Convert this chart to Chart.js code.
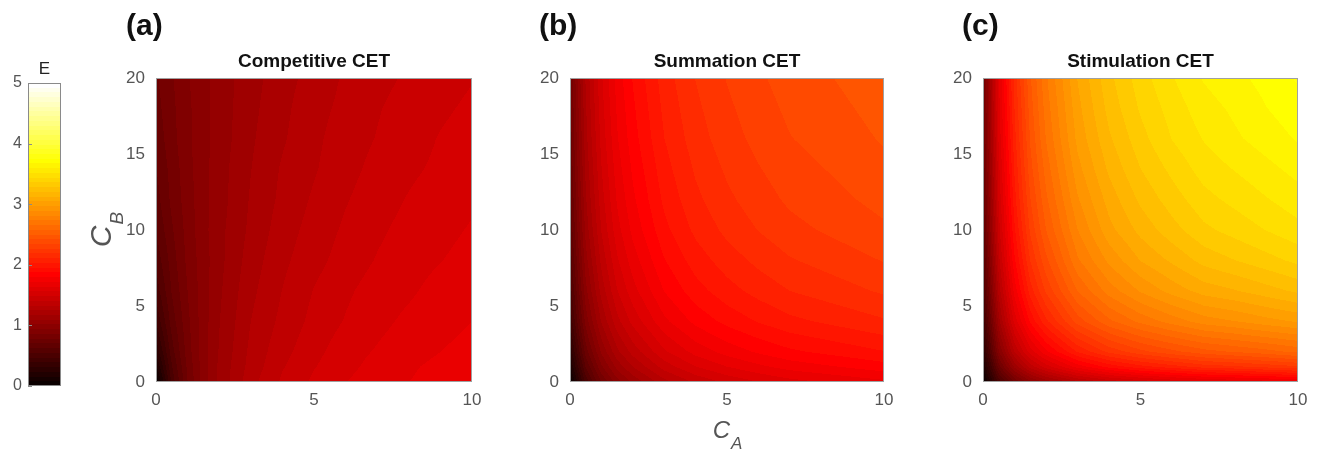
<!DOCTYPE html>
<html lang="en">
<head>
<meta charset="UTF-8">
<title>CET</title>
<script src="https://cdn.jsdelivr.net/npm/chart.js@4.4.0/dist/chart.umd.min.js"></script>
<style>
  body { margin: 0; background: #fff; }
  #wrap { position: relative; width: 1326px; height: 456px; }
  #wrap canvas { position: absolute; left: 0; top: 0; }
</style>
</head>
<body>
<div id="wrap">
  <canvas id="barra" width="1326" height="456"></canvas>
  <canvas id="pA" width="1326" height="456"></canvas>
  <canvas id="pB" width="1326" height="456"></canvas>
  <canvas id="pC" width="1326" height="456"></canvas>
</div>
<script>
// ---- dati ----
const caValues = [0, 0.5, 1, 1.5, 2, 3, 4, 5, 6, 7, 8, 9, 10];
const cbValues = [0, 1, 2, 4, 6, 8, 10, 12, 14, 16, 18, 20];

// E per riga (una riga per ogni valore di cbValues, dal basso in alto)
const competitiveE = [
  [0.00, 0.49, 0.78, 0.98, 1.11, 1.30, 1.42, 1.50, 1.56, 1.61, 1.64, 1.67, 1.70],
  [0.14, 0.54, 0.80, 0.98, 1.11, 1.28, 1.40, 1.48, 1.54, 1.59, 1.63, 1.66, 1.68],
  [0.25, 0.59, 0.82, 0.98, 1.10, 1.27, 1.38, 1.46, 1.53, 1.57, 1.61, 1.64, 1.67],
  [0.40, 0.66, 0.84, 0.98, 1.09, 1.25, 1.35, 1.43, 1.49, 1.54, 1.58, 1.61, 1.64],
  [0.50, 0.71, 0.86, 0.98, 1.08, 1.23, 1.33, 1.41, 1.47, 1.52, 1.55, 1.59, 1.62],
  [0.57, 0.74, 0.88, 0.98, 1.07, 1.21, 1.31, 1.38, 1.44, 1.49, 1.53, 1.56, 1.59],
  [0.63, 0.77, 0.89, 0.99, 1.07, 1.19, 1.29, 1.36, 1.42, 1.47, 1.51, 1.54, 1.57],
  [0.67, 0.80, 0.90, 0.99, 1.06, 1.18, 1.27, 1.34, 1.40, 1.45, 1.49, 1.52, 1.55],
  [0.70, 0.81, 0.91, 0.99, 1.06, 1.17, 1.26, 1.32, 1.38, 1.43, 1.47, 1.50, 1.53],
  [0.73, 0.83, 0.92, 0.99, 1.05, 1.16, 1.24, 1.31, 1.37, 1.41, 1.45, 1.49, 1.52],
  [0.75, 0.84, 0.92, 0.99, 1.05, 1.15, 1.23, 1.30, 1.35, 1.40, 1.44, 1.47, 1.50],
  [0.77, 0.85, 0.93, 0.99, 1.05, 1.14, 1.22, 1.28, 1.34, 1.38, 1.42, 1.45, 1.48]
];
const summationE = [
  [0.00, 0.49, 0.78, 0.98, 1.11, 1.30, 1.42, 1.50, 1.56, 1.61, 1.64, 1.67, 1.70],
  [0.14, 0.63, 0.92, 1.12, 1.25, 1.44, 1.56, 1.64, 1.70, 1.75, 1.78, 1.81, 1.84],
  [0.25, 0.74, 1.03, 1.23, 1.36, 1.55, 1.67, 1.75, 1.81, 1.86, 1.89, 1.92, 1.95],
  [0.40, 0.89, 1.18, 1.38, 1.51, 1.70, 1.82, 1.90, 1.96, 2.01, 2.04, 2.07, 2.10],
  [0.50, 0.99, 1.28, 1.48, 1.61, 1.80, 1.92, 2.00, 2.06, 2.11, 2.14, 2.17, 2.20],
  [0.57, 1.06, 1.35, 1.55, 1.68, 1.87, 1.99, 2.07, 2.13, 2.18, 2.21, 2.24, 2.27],
  [0.63, 1.12, 1.41, 1.61, 1.74, 1.93, 2.05, 2.13, 2.19, 2.24, 2.27, 2.30, 2.33],
  [0.67, 1.16, 1.45, 1.65, 1.78, 1.97, 2.09, 2.17, 2.23, 2.28, 2.31, 2.34, 2.37],
  [0.70, 1.19, 1.48, 1.68, 1.81, 2.00, 2.12, 2.20, 2.26, 2.31, 2.34, 2.37, 2.40],
  [0.73, 1.22, 1.51, 1.71, 1.84, 2.03, 2.15, 2.23, 2.29, 2.34, 2.37, 2.40, 2.43],
  [0.75, 1.24, 1.53, 1.73, 1.86, 2.05, 2.17, 2.25, 2.31, 2.36, 2.39, 2.42, 2.45],
  [0.77, 1.26, 1.55, 1.75, 1.88, 2.07, 2.19, 2.27, 2.33, 2.38, 2.41, 2.44, 2.47]
];
const stimulationE = [
  [0.00, 0.49, 0.78, 0.98, 1.11, 1.30, 1.42, 1.50, 1.56, 1.61, 1.64, 1.67, 1.70],
  [0.14, 0.74, 1.11, 1.36, 1.52, 1.75, 1.90, 2.00, 2.07, 2.14, 2.17, 2.21, 2.25],
  [0.25, 0.93, 1.33, 1.60, 1.78, 2.04, 2.21, 2.32, 2.40, 2.47, 2.51, 2.55, 2.60],
  [0.40, 1.14, 1.59, 1.89, 2.09, 2.38, 2.56, 2.68, 2.77, 2.85, 2.89, 2.94, 2.98],
  [0.50, 1.28, 1.75, 2.07, 2.28, 2.58, 2.77, 2.90, 3.00, 3.08, 3.12, 3.17, 3.22],
  [0.57, 1.38, 1.86, 2.19, 2.40, 2.72, 2.91, 3.05, 3.14, 3.23, 3.28, 3.33, 3.38],
  [0.63, 1.45, 1.94, 2.28, 2.50, 2.81, 3.02, 3.15, 3.25, 3.34, 3.39, 3.44, 3.49],
  [0.67, 1.50, 2.00, 2.34, 2.56, 2.88, 3.08, 3.22, 3.32, 3.41, 3.46, 3.51, 3.56],
  [0.70, 1.54, 2.04, 2.39, 2.61, 2.94, 3.14, 3.28, 3.38, 3.47, 3.52, 3.57, 3.62],
  [0.73, 1.58, 2.08, 2.43, 2.66, 2.99, 3.19, 3.33, 3.44, 3.52, 3.58, 3.63, 3.68],
  [0.75, 1.61, 2.11, 2.46, 2.69, 3.02, 3.23, 3.37, 3.47, 3.56, 3.61, 3.67, 3.72],
  [0.77, 1.63, 2.14, 2.49, 2.72, 3.05, 3.26, 3.40, 3.51, 3.60, 3.65, 3.70, 3.76]
];

const xTicks = [0, 5, 10];
const yTicks = [0, 5, 10, 15, 20];
const colorbarTicks = [0, 1, 2, 3, 4, 5];
const panelTitles = ['Competitive CET', 'Summation CET', 'Stimulation CET'];
const panelLetters = ['(a)', '(b)', '(c)'];

// ---- impaginazione ----
const W = 1326, H = 456;
const plotTop = 78, plotBottom = 382;
const plotLefts = [156, 570, 983];
const plotRights = [472, 884, 1298];
const letterX = [126, 539, 962];
const yAxisW = 40, xAxisH = 30;
const FONT = "'Liberation Sans', Arial, Helvetica, sans-serif";

Chart.defaults.font.family = FONT;

// mappa "hot" a 64 colori (come MATLAB) sull'intervallo 0..5
function hot64(e) {
  let idx = Math.floor(Math.max(0, Math.min(5, e)) / 5 * 64);
  if (idx > 63) idx = 63;
  const r = idx < 24 ? (idx + 1) / 24 : 1;
  const g = idx < 24 ? 0 : (idx < 48 ? (idx - 23) / 24 : 1);
  const b = idx < 48 ? 0 : (idx - 47) / 16;
  return [Math.round(r * 255), Math.round(g * 255), Math.round(b * 255)];
}
function rgb(c) { return 'rgb(' + c[0] + ',' + c[1] + ',' + c[2] + ')'; }

// posizione di v nella griglia vals: indice e frazione
function locate(vals, v) {
  let i = 0;
  while (i < vals.length - 2 && v > vals[i + 1]) i++;
  let t = (v - vals[i]) / (vals[i + 1] - vals[i]);
  return [i, Math.max(0, Math.min(1, t))];
}

function drawSub(ctx, x, y, main, sub, bigSize, smallSize, drop) {
  ctx.font = 'italic ' + bigSize + 'px ' + FONT;
  const w1 = ctx.measureText(main).width;
  ctx.font = 'italic ' + smallSize + 'px ' + FONT;
  const w2 = ctx.measureText(sub).width;
  const start = x - (w1 + w2) / 2;
  ctx.textAlign = 'left';
  ctx.textBaseline = 'alphabetic';
  ctx.font = 'italic ' + bigSize + 'px ' + FONT;
  ctx.fillText(main, start, y);
  ctx.font = 'italic ' + smallSize + 'px ' + FONT;
  ctx.fillText(sub, start + w1 + 1, y + drop);
}

// disegna la mappa (stile contourf) dai valori della griglia, usando le scale di Chart.js
function heatPlugin(k, values) {
  return {
    id: 'heat' + k,
    beforeDatasetsDraw(chart) {
      const ctx = chart.ctx, a = chart.chartArea;
      const sx = chart.scales.x, sy = chart.scales.y;
      const x0 = Math.round(a.left), y0 = Math.round(a.top);
      const w = Math.round(a.right) - x0, h = Math.round(a.bottom) - y0;
      const img = ctx.createImageData(w, h);
      const colInfo = [];
      for (let px = 0; px < w; px++) colInfo.push(locate(caValues, sx.getValueForPixel(x0 + px + 0.5)));
      for (let py = 0; py < h; py++) {
        const [j, ty] = locate(cbValues, sy.getValueForPixel(y0 + py + 0.5));
        const r0 = values[j], r1 = values[j + 1];
        for (let px = 0; px < w; px++) {
          const [i, tx] = colInfo[px];
          const lo = r0[i] * (1 - tx) + r0[i + 1] * tx;
          const hi = r1[i] * (1 - tx) + r1[i + 1] * tx;
          const c = hot64(lo * (1 - ty) + hi * ty);
          const p = (py * w + px) * 4;
          img.data[p] = c[0]; img.data[p + 1] = c[1]; img.data[p + 2] = c[2]; img.data[p + 3] = 255;
        }
      }
      ctx.putImageData(img, x0, y0);
    },
    afterDraw(chart) {
      const ctx = chart.ctx, a = chart.chartArea;
      ctx.save();
      ctx.strokeStyle = '#a0a0a0';
      ctx.lineWidth = 1;
      ctx.strokeRect(Math.round(a.left) + 0.5, Math.round(a.top) + 0.5,
                     Math.round(a.right - a.left) - 1, Math.round(a.bottom - a.top) - 1);
      // titolo del pannello
      ctx.fillStyle = '#111';
      ctx.font = 'bold 19px ' + FONT;
      ctx.textAlign = 'center';
      ctx.textBaseline = 'middle';
      ctx.fillText(panelTitles[k], (a.left + a.right) / 2, 62);
      // lettera
      ctx.font = 'bold 30px ' + FONT;
      ctx.textAlign = 'left';
      ctx.fillText(panelLetters[k], letterX[k], 27);
      // etichette degli assi
      ctx.fillStyle = '#555';
      if (k === 1) {
        drawSub(ctx, (a.left + a.right) / 2, 438, 'C', 'A', 24, 17, 11);
      }
      if (k === 0) {
        ctx.save();
        ctx.translate(111, (a.top + a.bottom) / 2);
        ctx.rotate(-Math.PI / 2);
        drawSub(ctx, 0, 0, 'C', 'B', 30, 19, 12);
        ctx.restore();
      }
      ctx.restore();
    }
  };
}

function panelChart(id, k, values) {
  return new Chart(id, {
    type: 'scatter',
    data: { datasets: [{ data: [] }] },
    options: {
      responsive: false,
      animation: false,
      devicePixelRatio: 1,
      layout: {
        padding: {
          left: plotLefts[k] - yAxisW,
          right: W - plotRights[k],
          top: plotTop,
          bottom: H - plotBottom - xAxisH
        }
      },
      plugins: { legend: { display: false }, tooltip: { enabled: false } },
      scales: {
        x: {
          type: 'linear', min: 0, max: 10,
          afterFit(s) { s.height = xAxisH; },
          afterBuildTicks(s) { s.ticks = xTicks.map(v => ({ value: v })); },
          grid: { display: false, drawTicks: false },
          border: { display: false },
          ticks: { padding: 8, color: '#555', font: { size: 17 }, maxRotation: 0 }
        },
        y: {
          type: 'linear', min: 0, max: 20,
          afterFit(s) { s.width = yAxisW; },
          afterBuildTicks(s) { s.ticks = yTicks.map(v => ({ value: v })); },
          grid: { display: false, drawTicks: false },
          border: { display: false },
          ticks: { padding: 11, color: '#555', font: { size: 17 } }
        }
      }
    },
    plugins: [heatPlugin(k, values)]
  });
}

// barra dei colori
const colorbarPlugin = {
  id: 'colorbar',
  beforeDatasetsDraw(chart) {
    const ctx = chart.ctx, a = chart.chartArea, sy = chart.scales.y;
    ctx.save();
    const top = Math.round(a.top), bottom = Math.round(a.bottom);
    for (let py = top; py < bottom; py++) {
      ctx.fillStyle = rgb(hot64(sy.getValueForPixel(py + 0.5)));
      ctx.fillRect(a.left, py, a.right - a.left, 1);
    }
    ctx.strokeStyle = '#8a8a8a';
    ctx.lineWidth = 1;
    ctx.strokeRect(Math.round(a.left) + 0.5, top + 0.5, Math.round(a.right - a.left) - 1, bottom - top - 1);
    ctx.beginPath();
    colorbarTicks.forEach(v => {
      const y = Math.round(sy.getPixelForValue(v)) + 0.5;
      ctx.moveTo(a.left, y);
      ctx.lineTo(a.left + 4, y);
    });
    ctx.stroke();
    ctx.fillStyle = '#222';
    ctx.font = '17px ' + FONT;
    ctx.textAlign = 'center';
    ctx.textBaseline = 'middle';
    ctx.fillText('E', (a.left + a.right) / 2, 69);
    ctx.restore();
  }
};

new Chart('barra', {
  type: 'scatter',
  data: { datasets: [{ data: [] }] },
  options: {
    responsive: false,
    animation: false,
    devicePixelRatio: 1,
    layout: { padding: { left: 8, right: W - 61, top: 83, bottom: H - 386 } },
    plugins: { legend: { display: false }, tooltip: { enabled: false } },
    scales: {
      x: { display: false, min: 0, max: 1 },
      y: {
        type: 'linear', min: 0, max: 5,
        afterFit(s) { s.width = 20; },
        afterBuildTicks(s) { s.ticks = colorbarTicks.map(v => ({ value: v })); },
        grid: { display: false, drawTicks: false },
        border: { display: false },
        ticks: { padding: 6, color: '#555', font: { size: 16 } }
      }
    }
  },
  plugins: [colorbarPlugin]
});

panelChart('pA', 0, competitiveE);
panelChart('pB', 1, summationE);
panelChart('pC', 2, stimulationE);
</script>
</body>
</html>
